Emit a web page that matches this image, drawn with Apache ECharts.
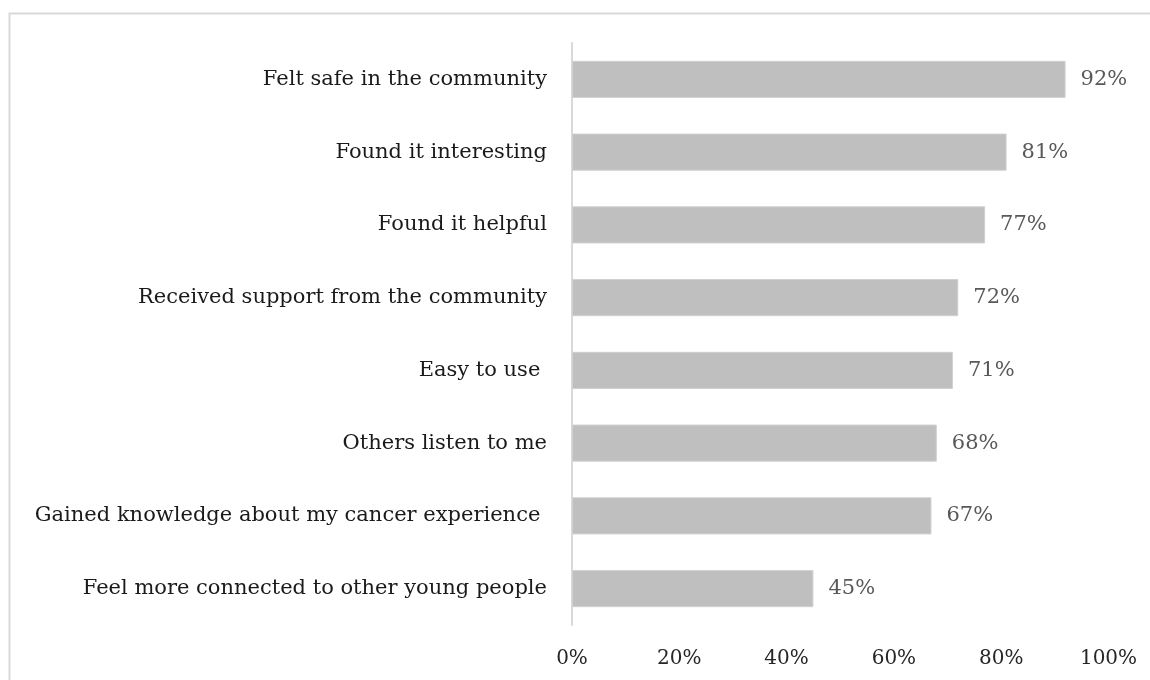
<!DOCTYPE html>
<html>
<head>
<meta charset="utf-8">
<script src="https://cdn.jsdelivr.net/npm/echarts@6/dist/echarts.min.js"></script>
<style>
  html, body { margin: 0; padding: 0; background: #fff; }
  #chart { width: 1150px; height: 680px; }
</style>
</head>
<body>
<div id="chart"></div>
<script>
// Survey items, listed top to bottom
const categories = [
  'Felt safe in the community',
  'Found it interesting',
  'Found it helpful',
  'Received support from the community',
  'Easy to use ',
  'Others listen to me',
  'Gained knowledge about my cancer experience ',
  'Feel more connected to other young people'
];
// Share of respondents agreeing (percent)
const values = [92, 81, 77, 72, 71, 68, 67, 45];
// X axis ticks (percent)
const xTicks = [0, 20, 40, 60, 80, 100];

const FONT = '"DejaVu Serif", "Liberation Serif", serif';

const chart = echarts.init(document.getElementById('chart'), null, { renderer: 'canvas' });
chart.setOption({
  animation: false,
  backgroundColor: '#ffffff',
  graphic: [{
    type: 'rect',
    shape: { x: 9.5, y: 13.5, width: 1200, height: 700 },
    style: { fill: 'none', stroke: '#d9d9d9', lineWidth: 2 },
    silent: true
  }],
  grid: { left: 572, right: 41.5, top: 43, bottom: 55, containLabel: false },
  xAxis: {
    type: 'value',
    min: xTicks[0],
    max: xTicks[xTicks.length - 1],
    interval: xTicks[1] - xTicks[0],
    axisLine: { show: false },
    axisTick: { show: false },
    splitLine: { show: false },
    axisLabel: {
      margin: 24,
      formatter: v => v + '%',
      fontFamily: FONT,
      fontSize: 20,
      color: '#262626'
    }
  },
  yAxis: {
    type: 'category',
    data: categories,
    inverse: true,
    axisLine: { show: true, lineStyle: { color: '#d9d9d9', width: 2 } },
    axisTick: { show: false },
    splitLine: { show: false },
    axisLabel: {
      margin: 25,
      fontFamily: FONT,
      fontSize: 21,
      color: '#1a1a1a'
    }
  },
  series: [{
    type: 'bar',
    data: values,
    barWidth: '51%',
    itemStyle: { color: '#bfbfbf', borderColor: '#d0d0d0', borderWidth: 1 },
    label: {
      show: true,
      position: 'right',
      distance: 15,
      formatter: p => p.value + '%',
      fontFamily: FONT,
      fontSize: 21,
      color: '#595959'
    }
  }]
});
</script>
</body>
</html>
